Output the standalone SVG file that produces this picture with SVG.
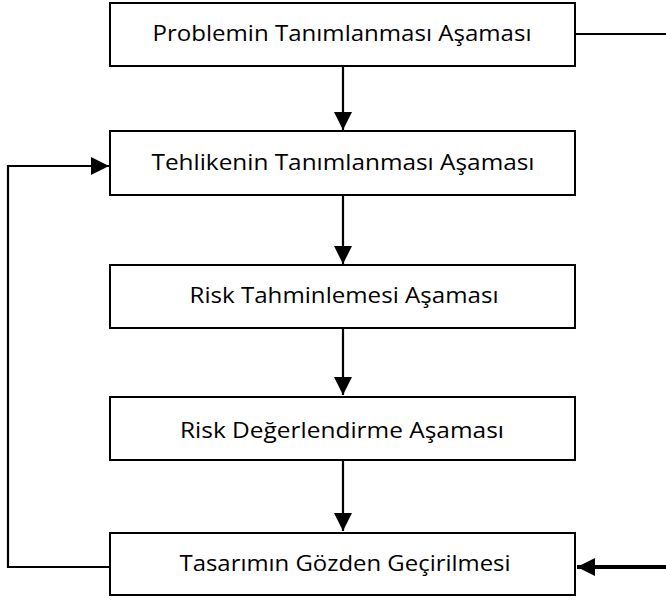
<svg xmlns="http://www.w3.org/2000/svg" width="666" height="603" viewBox="0 0 666 603">
<defs>
<style>
.box{fill:#fff;stroke:#000;stroke-width:2}
.lbl{font-family:"Open Sans","Liberation Sans",sans-serif;font-size:21px;fill:#000;text-anchor:middle}
.ln{fill:none;stroke:#000;stroke-width:2.2}
</style>
<marker id="ah" markerUnits="userSpaceOnUse" markerWidth="18" markerHeight="18" refX="17" refY="8.5" orient="auto" viewBox="0 0 17 17">
<path d="M0,0 L17,8.5 L0,17 Z" fill="#000"/>
</marker>
</defs>
<rect width="666" height="603" fill="#fff"/>
<g id="n1"><rect class="box" x="110" y="3" width="465" height="63"/><text class="lbl" x="342" y="41" textLength="379" lengthAdjust="spacingAndGlyphs">Problemin Tanımlanması Aşaması</text></g>
<g id="n2"><rect class="box" x="110" y="131" width="465" height="64"/><text class="lbl" x="343" y="170" textLength="383" lengthAdjust="spacingAndGlyphs">Tehlikenin Tanımlanması Aşaması</text></g>
<g id="n3"><rect class="box" x="110" y="265" width="465" height="63"/><text class="lbl" x="344" y="303" textLength="309" lengthAdjust="spacingAndGlyphs">Risk Tahminlemesi Aşaması</text></g>
<g id="n4"><rect class="box" x="110" y="397" width="465" height="63"/><text class="lbl" x="342" y="438" textLength="324" lengthAdjust="spacingAndGlyphs">Risk Değerlendirme Aşaması</text></g>
<g id="n5"><rect class="box" x="110" y="533" width="465" height="62"/><text class="lbl" x="345" y="571" textLength="331" lengthAdjust="spacingAndGlyphs">Tasarımın Gözden Geçirilmesi</text></g>
<g id="connectors">
<line class="ln" x1="343" y1="66" x2="343" y2="130" marker-end="url(#ah)"/>
<line class="ln" x1="343" y1="195" x2="343" y2="264" marker-end="url(#ah)"/>
<line class="ln" x1="343" y1="328" x2="343" y2="395" marker-end="url(#ah)"/>
<line class="ln" x1="343" y1="460" x2="343" y2="531" marker-end="url(#ah)"/>
<polyline class="ln" points="110,567 8,567 8,166 109,166" marker-end="url(#ah)"/>
<line class="ln" x1="575" y1="34" x2="666" y2="34"/>
<line x1="666" y1="567" x2="577" y2="567" stroke="#000" stroke-width="4" marker-end="url(#ah)"/>
</g>
</svg>
